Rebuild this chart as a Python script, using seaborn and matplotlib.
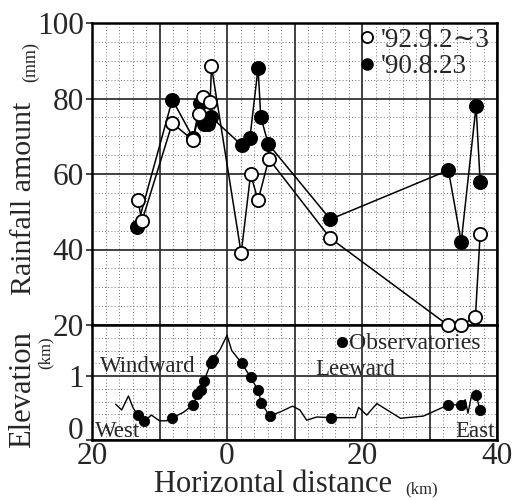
import matplotlib
matplotlib.use("Agg")
import matplotlib.pyplot as plt
import matplotlib.transforms as mtransforms
import numpy as np
import pandas as pd
import seaborn as sns
from matplotlib.ticker import MultipleLocator, FixedLocator, FuncFormatter
from matplotlib.lines import Line2D

# ---------------- data ----------------
# '92.9.2~3 (open circles): horizontal distance (km) and rainfall (mm)
x_open = [-13.2, -12.6, -8.1, -5.1, -4.1, -3.5, -2.5, -2.3, 2.1, 3.5, 4.6, 6.2,
          15.3, 32.7, 34.6, 36.8, 37.5]
rain_open = [53, 47.5, 73.5, 69, 75.8, 80.5, 79, 88.5, 39, 60, 53, 64,
             43, 20, 20, 22, 44]

# '90.8.23 (filled circles)
x_fill = [-13.3, -8.1, -5.0, -4.0, -3.4, -2.8, -2.3, 2.2, 3.4, 4.6, 5.0, 6.1,
          15.3, 32.8, 34.7, 36.9, 37.5]
rain_fill = [46, 79.7, 69.5, 78.8, 73.2, 73.2, 75, 67.6, 69.6, 88.1, 75.2, 68,
             48, 61, 42, 78, 58]

# terrain profile (km)
prof_x = [-16.5, -15.6, -14.6, -13.9, -13.2, -12.3, -11.2, -10.0, -9.0, -8.1, -6.5,
          -5.0, -4.4, -3.9, -3.4, -2.4, -2.1, -1.0, 0.0, 0.7, 2.2, 3.5, 4.6, 5.1,
          6.3, 7.9, 9.7, 10.8, 11.8, 13.3, 15.4, 17.5, 19.0, 19.5, 20.7, 22.2,
          25.7, 29.1, 32.8, 34.6, 35.3, 35.7, 36.2, 36.9, 37.5]
prof_e = [0.56, 0.47, 0.69, 0.50, 0.39, 0.29, 0.39, 0.30, 0.30, 0.35, 0.43,
          0.55, 0.72, 0.79, 0.93, 1.20, 1.26, 1.42, 1.64, 1.40, 1.20, 0.98, 0.78, 0.58,
          0.375, 0.44, 0.53, 0.47, 0.31, 0.36, 0.35, 0.35, 0.35, 0.51, 0.39, 0.57,
          0.34, 0.375, 0.55, 0.55, 0.63, 0.42, 0.68, 0.70, 0.47]

# observatories
obs_x = [-13.2, -12.3, -8.1, -5.0, -4.4, -3.9, -3.4, -2.4, -2.1, 2.2, 3.5, 4.6,
         5.1, 6.3, 15.4, 32.8, 34.6, 36.9, 37.5]
obs_e = [0.39, 0.29, 0.35, 0.55, 0.72, 0.79, 0.93, 1.20, 1.26, 1.20, 0.98, 0.78,
         0.58, 0.375, 0.35, 0.55, 0.55, 0.70, 0.47]

label_open = "'92.9.2\u223c3"
label_fill = "'90.8.23"

# ---------------- style ----------------
sns.set_theme(style="white")
plt.rcParams["font.family"] = ["Liberation Serif", "DejaVu Serif"]
plt.rcParams["axes.edgecolor"] = "black"

fig = plt.figure(figsize=(5.15, 5.0), dpi=100)
L = 92 / 515
Wd = 405 / 515
ax1 = fig.add_axes([L, 1 - 325 / 500, Wd, (325 - 23) / 500])
ax2 = fig.add_axes([L, 1 - 440 / 500, Wd, (440 - 325) / 500], sharex=ax1)
for a in (ax1, ax2):
    a.patch.set_facecolor("none")
ax1.set_zorder(3)

DOT = dict(ls=(0, (1, 2.8)), lw=0.6, color="#444444")
SOLID = dict(ls="-", lw=1.3, color="#333333")

# ---------------- rainfall ----------------
sns.lineplot(x=x_fill, y=rain_fill, ax=ax1, sort=False, estimator=None,
             color="black", lw=1.1, marker="o", markersize=9.5,
             markerfacecolor="black", markeredgecolor="black", markeredgewidth=1.3,
             clip_on=False, zorder=5, label=label_fill)
sns.lineplot(x=x_open, y=rain_open, ax=ax1, sort=False, estimator=None,
             color="black", lw=1.1, marker="o", markersize=9.5,
             markerfacecolor="white", markeredgecolor="black", markeredgewidth=1.3,
             clip_on=False, zorder=6, label=label_open)

ax1.set_xlim(-20, 40)
ax1.set_ylim(20, 100)
ax1.yaxis.set_major_locator(MultipleLocator(20))
ax1.yaxis.set_minor_locator(MultipleLocator(5))
ax1.xaxis.set_major_locator(MultipleLocator(10))
ax1.xaxis.set_minor_locator(MultipleLocator(2))
ax1.tick_params(axis="x", labelbottom=False, length=0, which="both")
ax1.tick_params(axis="y", which="major", left=True, length=4, width=1.2,
                direction="out", labelsize=22.5, pad=2)
ax1.tick_params(axis="y", which="minor", length=0)
ax1.grid(which="major", **SOLID)
ax1.grid(which="minor", **DOT)
ax1.set_axisbelow(True)
ax1.set_xlabel("")
ax1.set_ylabel("")

ax1.legend([Line2D([], [], ls="none", marker="o", markersize=8,
                   markerfacecolor="white", markeredgecolor="black", markeredgewidth=1.3),
            Line2D([], [], ls="none", marker="o", markersize=8,
                   markerfacecolor="black", markeredgecolor="black")],
           [label_open, label_fill],
           loc="upper left", bbox_to_anchor=(0.632, 1.02), frameon=False,
           handlelength=0.6, handletextpad=0.2, labelspacing=0.05,
           borderaxespad=0, fontsize=19.5)

# ---------------- elevation ----------------
sns.lineplot(x=prof_x, y=prof_e, ax=ax2, sort=False, estimator=None,
             color="black", lw=1.0, zorder=4)
sns.scatterplot(x=obs_x, y=obs_e, ax=ax2, color="black", edgecolor="black",
                s=55, zorder=5, label="Observatories")
ax2.set_ylim(0, 1.8)
ax2.yaxis.set_major_locator(FixedLocator([0, 1]))
ax2.yaxis.set_minor_locator(MultipleLocator(0.2))
ax2.xaxis.set_major_locator(MultipleLocator(10))
ax2.xaxis.set_minor_locator(MultipleLocator(2))
ax2.xaxis.set_major_formatter(FuncFormatter(
    lambda v, p: f"{abs(int(round(v)))}" if int(round(v)) % 20 == 0 else ""))
ax2.tick_params(axis="x", which="both", length=0, labelsize=22.5, pad=1.5)
ax2.tick_params(axis="y", which="major", left=True, length=4, width=1.2,
                direction="out", labelsize=22.5, pad=2)
ax2.tick_params(axis="y", which="minor", length=0)
ax2.grid(which="major", **SOLID)
ax2.grid(which="minor", **DOT)
ax2.set_axisbelow(True)
ax2.set_xlabel("")
ax2.set_ylabel("")
ax2.legend(loc="upper left", bbox_to_anchor=(0.585, 1.02), frameon=False,
           handlelength=0.3, handletextpad=0.15, borderaxespad=0, fontsize=17,
           markerscale=1.0)

for a in (ax1, ax2):
    for s in a.spines.values():
        s.set_linewidth(1.8)
        s.set_color("black")
ax2.spines["top"].set_visible(False)

ax2.text(-18.8, 1.06, "Windward", fontsize=16.5, va="baseline", ha="left", zorder=6)
ax2.text(13.1, 1.02, "Leeward", fontsize=16.5, va="baseline", ha="left", zorder=6)
ax2.text(-19.6, 0.04, "West", fontsize=16.5, va="baseline", ha="left", zorder=6)
ax2.text(39.7, 0.04, "East", fontsize=16.5, va="baseline", ha="right", zorder=6)

# lift the "0" elevation label a little, as in the original
fig.canvas.draw()
for tk in ax2.yaxis.get_major_ticks():
    if tk.get_loc() == 0:
        tk.label1.set_transform(tk.label1.get_transform() +
                                mtransforms.ScaledTranslation(0, 8.5 / 72, fig.dpi_scale_trans))

# ---------------- axis titles ----------------
fig.text(24 / 515, 1 - 198 / 500, "Rainfall amount", rotation=90, fontsize=21.5,
         ha="center", va="center")
fig.text(31 / 515, 1 - 62 / 500, "(mm)", rotation=90, fontsize=13,
         ha="center", va="center")
fig.text(23 / 515, 1 - 390 / 500, "Elevation", rotation=90, fontsize=22,
         ha="center", va="center")
fig.text(46 / 515, 1 - 353 / 500, "(km)", rotation=90, fontsize=12,
         ha="center", va="center")
fig.text(273 / 515, 1 - 484 / 500, "Horizontal distance", fontsize=22,
         ha="center", va="center")
fig.text(422 / 515, 1 - 489 / 500, "(km)", fontsize=12, ha="center", va="center")

fig.savefig("out.png", dpi=100)
